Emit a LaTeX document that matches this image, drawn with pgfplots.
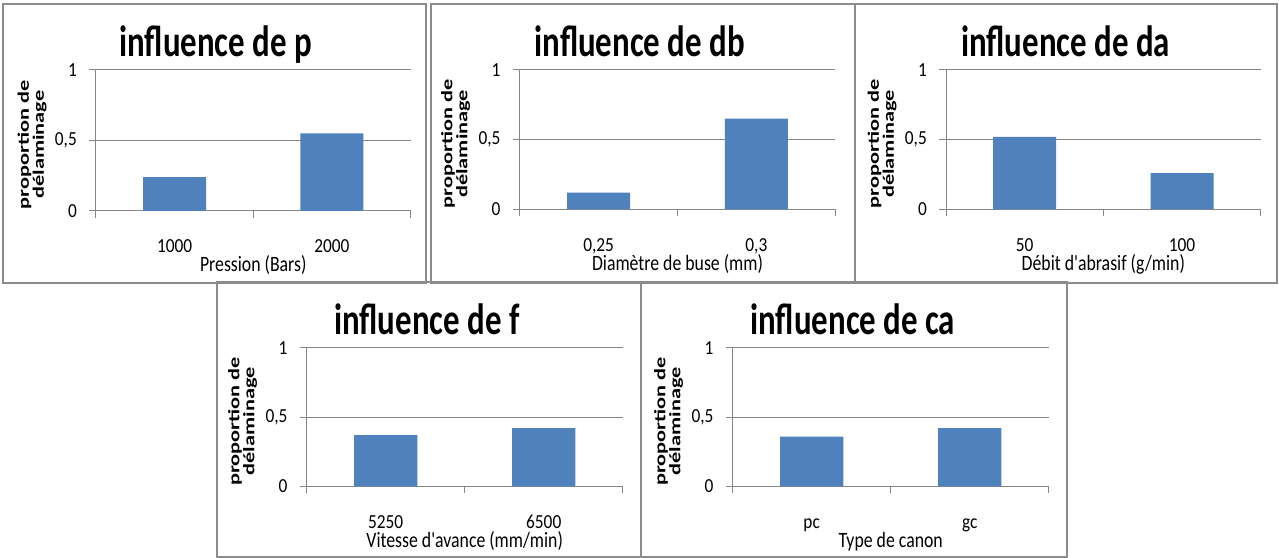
\documentclass[border=0pt]{standalone}
\usepackage{pgfplots}
\pgfplotsset{compat=1.18}
\usepackage{fontspec}
\setmainfont{Carlito}
\newfontfamily\narrowfam[FakeStretch=0.75]{Carlito}
\newfontfamily\tickfam[FakeStretch=0.87]{Carlito}
\newfontfamily\xlabfam[FakeStretch=0.81]{Carlito}
\newfontfamily\widefam[FakeStretch=1.4]{Carlito}
\definecolor{barblue}{HTML}{4F81BD}
\definecolor{axisgray}{HTML}{868686}
\definecolor{framegray}{HTML}{8C8C8C}
\newcommand{\titlefont}{\narrowfam\bfseries\fontsize{44}{50}\selectfont}
\newcommand{\tickfont}{\tickfam\fontsize{20}{24}\selectfont}
\newcommand{\xlabfont}{\xlabfam\fontsize{22}{26}\selectfont}
\newcommand{\ylabfont}{\widefam\bfseries\fontsize{16}{15}\selectfont}
\pgfplotsset{
  panel/.style={
    scale only axis, anchor=south west,
    xmin=-0.5, xmax=1.5, ymin=0, ymax=1,
    axis lines*=left,
    axis line style={draw=axisgray, line width=1bp},
    xtick={-0.5,0.5,1.5}, x tick label as interval,
    ytick={0,0.5,1}, yticklabels={0,{0,5},1},
    tick align=outside, major tick length=7bp,
    tick style={draw=axisgray, line width=1bp},
    ymajorgrids, grid style={draw=axisgray, line width=1bp},
    xticklabel style={font=\tickfont, anchor=base, inner sep=0pt, yshift=-35bp},
    yticklabel style={font=\tickfont, anchor=east, inner sep=0pt, xshift=-12bp},
    title style={font=\titlefont, at={(axis description cs:0.38,1.055)}, anchor=base},
    xlabel style={font=\xlabfont, at={(axis description cs:0.5,0)}, anchor=base, yshift=-61bp},
    ylabel style={font=\ylabfont, align=center, at={(axis description cs:-0.203,0.47)}, anchor=center},
    ylabel={proportion de\\délaminage},
    clip=false,
  },
  bars/.style={ybar, bar width=0.4, fill=barblue, draw=none},
}
\begin{document}
\begin{tikzpicture}[x=1bp,y=1bp]
\useasboundingbox (0,0) rectangle (1279,558);
\fill[white] (0,0) rectangle (1279,558);
\coordinate (p1) at (96,347);
\coordinate (p2) at (519.7,348.7);
\coordinate (p3) at (946,348.7);
\coordinate (p4) at (306.7,71.7);
\coordinate (p5) at (732.7,71.7);
\begin{scope}[draw=framegray, line width=2bp]
\draw (3,554) rectangle (426,275);
\draw (431,554) rectangle (854.5,275);
\draw (855,554) rectangle (1277,275);
\draw (216.5,276) rectangle (641,1);
\draw (641,276) rectangle (1066.5,1);
\end{scope}

% P1
\begin{axis}[panel, at={(p1)}, width=314.5bp, height=141bp,
  title={influence de p}, xticklabels={1000,2000},
  xlabel={Pression (Bars)}]
\addplot[bars] coordinates {(0,0.24) (1,0.55)};
\end{axis}
% P2
\begin{axis}[panel, at={(p2)}, width=315.6bp, height=139.3bp,
  title={influence de db}, xticklabels={{0,25},{0,3}},
  xlabel={Diamètre de buse (mm)}]
\addplot[bars] coordinates {(0,0.12) (1,0.65)};
\end{axis}
% P3
\begin{axis}[panel, at={(p3)}, width=314.7bp, height=139.3bp,
  title={influence de da}, xticklabels={50,100},
  xlabel={Débit d'abrasif (g/min)}]
\addplot[bars] coordinates {(0,0.52) (1,0.26)};
\end{axis}
% P4
\begin{axis}[panel, at={(p4)}, width=316bp, height=138.3bp,
  title={influence de f}, xticklabels={5250,6500},
  xlabel={Vitesse d'avance (mm/min)}]
\addplot[bars] coordinates {(0,0.37) (1,0.42)};
\end{axis}
% P5
\begin{axis}[panel, at={(p5)}, width=316bp, height=138.3bp,
  title={influence de ca}, xticklabels={pc,gc},
  xlabel={Type de canon}]
\addplot[bars] coordinates {(0,0.36) (1,0.42)};
\end{axis}
\end{tikzpicture}
\end{document}
